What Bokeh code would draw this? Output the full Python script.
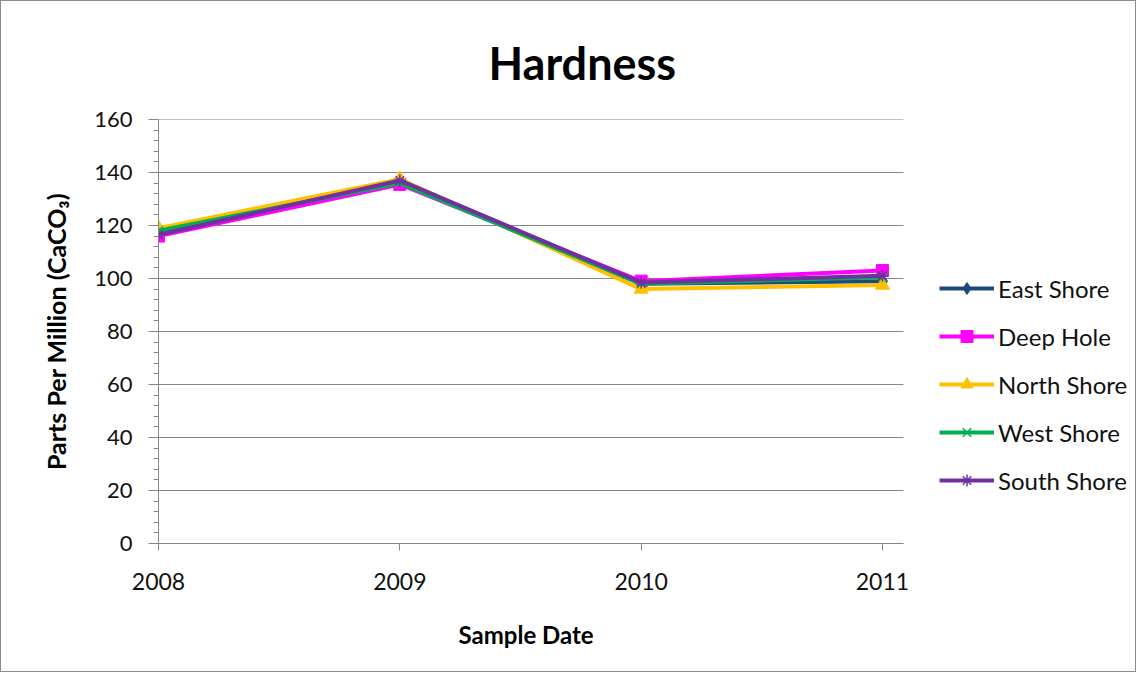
from bokeh.plotting import figure
from bokeh.models import Range1d, FixedTicker, Legend, LegendItem, Title
from bokeh.embed import file_html
from bokeh.resources import INLINE

years = [2008, 2009, 2010, 2011]
east_shore = [117, 136.5, 98, 99]
deep_hole = [116, 135.5, 99, 103]
north_shore = [119, 137.5, 96, 97.5]
west_shore = [118, 136, 98, 100.5]
south_shore = [116.5, 137, 98.5, 101]
y_ticks = [0, 20, 40, 60, 80, 100, 120, 140, 160]

FONT = "Lato"
AXIS_END = 2011.087     # where the plot area (axis + gridlines) ends
VIEW_END = 2012.032     # canvas extends to the right to hold the legend

p = figure(width=1136, height=672, output_backend="svg", toolbar_location=None,
           x_range=Range1d(2008, VIEW_END), y_range=Range1d(0, 160),
           min_border_left=157, min_border_right=6, min_border_top=118, min_border_bottom=130)
p.styles = {"border": "1px solid #8c8c8c"}

p.title.text = "Hardness"
p.title.align = "left"
p.title.text_font = FONT
p.title.text_font_size = "45px"
p.title.text_font_style = "bold"
p.title.text_color = "black"
p.title.offset = 330
p.title.standoff = 60

p.outline_line_color = None
p.background_fill_color = "white"
p.border_fill_color = "white"

p.xgrid.grid_line_color = None
p.ygrid.grid_line_color = None
p.segment(x0=2008, x1=AXIS_END, y0=y_ticks, y1=y_ticks, line_color="#868686", line_width=1)

p.xaxis.ticker = FixedTicker(ticks=years)
p.xaxis.major_label_overrides = {y: str(y) for y in years}
p.xaxis.bounds = (2008, AXIS_END)
p.yaxis.ticker = FixedTicker(ticks=y_ticks, minor_ticks=list(range(0, 161, 4)))

for ax in (p.xaxis[0], p.yaxis[0]):
    ax.axis_line_color = "#868686"
    ax.major_tick_line_color = "#868686"
    ax.minor_tick_line_color = "#868686"
    ax.major_label_text_font = FONT
    ax.major_label_text_font_size = "22px"
    ax.major_label_text_color = "#111111"
    ax.axis_label_text_font = FONT
    ax.axis_label_text_font_style = "bold"
    ax.axis_label_text_color = "black"

p.xaxis.major_label_text_font_size = "23px"
p.yaxis.axis_label_text_font_size = "25px"

p.xaxis.minor_tick_line_color = None
p.xaxis.major_tick_in = 0
p.xaxis.major_tick_out = 7
p.xaxis.major_label_standoff = 22

p.yaxis.major_tick_in = 0
p.yaxis.major_tick_out = 10
p.yaxis.minor_tick_in = 0
p.yaxis.minor_tick_out = 5
p.yaxis.major_label_standoff = 16
p.yaxis.axis_label = "Parts Per Million (CaCO\u2083)"
p.yaxis.axis_label_standoff = 20

xlabel = Title(text="Sample Date", align="left", offset=300, standoff=50,
               text_font=FONT, text_font_size="24px", text_font_style="bold",
               text_color="black")
p.add_layout(xlabel, "below")

series = [
    ("East Shore", east_shore, "#1F497D", "diamond", 15),
    ("Deep Hole", deep_hole, "#FF00FF", "square", 12),
    ("North Shore", north_shore, "#FFC000", "triangle", 14),
    ("West Shore", west_shore, "#00B050", "x", 12),
    ("South Shore", south_shore, "#7030A0", "asterisk", 12),
]

items = []
for name, vals, color, marker, size in series:
    ln = p.line(years, vals, line_color=color, line_width=4)
    if marker in ("x", "asterisk"):
        mk = p.scatter(years, vals, marker=marker, size=size, line_color=color, line_width=1.5)
    else:
        mk = p.scatter(years, vals, marker=marker, size=size, fill_color=color, line_color=color)
    items.append(LegendItem(label=name, renderers=[ln, mk]))

legend = Legend(items=items, location=(781, 48), orientation="vertical",
                glyph_width=55, glyph_height=30, label_height=30, spacing=18,
                label_standoff=4, padding=0, margin=0,
                label_text_font=FONT, label_text_font_size="24px", label_text_color="#111111",
                border_line_color=None, background_fill_alpha=0)
p.add_layout(legend, "center")

open("out.html", "w").write(file_html(p, INLINE))
